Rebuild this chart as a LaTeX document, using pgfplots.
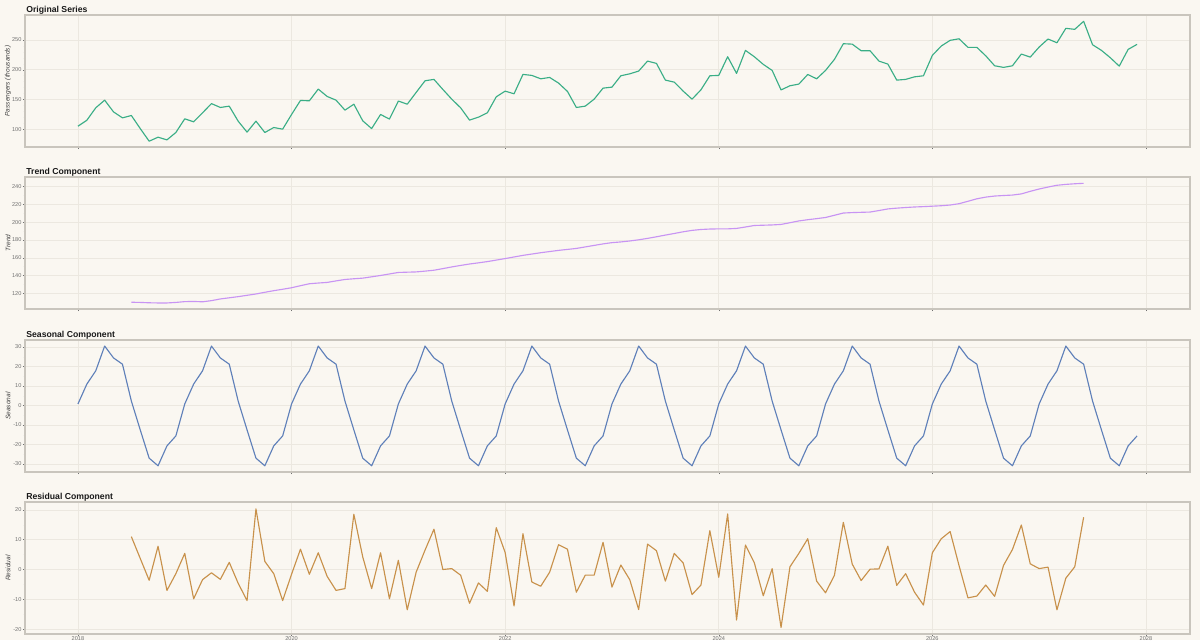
\documentclass[border=0pt]{standalone}
\usepackage{fontspec}
\setmainfont{Liberation Sans}
\usepackage{pgfplots}
\usepackage{pgfplotstable}
\pgfplotsset{compat=1.18}

\definecolor{bg}{HTML}{FAF7F1}
\definecolor{framec}{HTML}{C9C5BD}
\definecolor{gridc}{HTML}{ECE8E0}
\definecolor{tickc}{HTML}{707070}
\definecolor{cOrig}{HTML}{3AAE86}
\definecolor{cTrend}{HTML}{C894F3}
\definecolor{cSeas}{HTML}{5F80B9}
\definecolor{cResid}{HTML}{C8914B}

% month index (0 = Jan 2018), value
\pgfplotstableread{
i v
0 105
1 115
2 135.9
3 148.8
4 129
5 119
6 123
7 101
8 79.8
9 86.5
10 82
11 94.4
12 117.4
13 112.4
14 127.5
15 143
16 136.5
17 138.7
18 113.5
19 95
20 113.5
21 94.4
22 102.8
23 100
24 124.7
25 148.3
26 147.7
27 167.4
28 155
29 148.8
30 132
31 142
32 114
33 101
34 124.7
35 117
36 147.3
37 142
38 161.8
39 181.4
40 183.7
41 166.8
42 150.5
43 135.9
44 115.2
45 120.2
46 127.5
47 154.4
48 164
49 159.5
50 192.1
51 190.4
52 184.7
53 187
54 177.5
55 163.5
56 136.5
57 138.7
58 150.5
59 169
60 170.7
61 189.8
62 193.1
63 197.7
64 214.5
65 210.6
66 182.5
67 179.1
68 164
69 150.5
70 166.2
71 189.8
72 190.4
73 221.8
74 193.8
75 232.5
76 221.8
77 209
78 198.8
79 166
80 173
81 175.8
82 192
83 184.7
84 198.8
85 217.4
86 243.7
87 243
88 231.9
89 231.9
90 214.5
91 209.5
92 182.5
93 183.7
94 188
95 189.8
96 224.1
97 239.8
98 249.4
99 252
100 237.6
101 237.6
102 223.4
103 206.6
104 203.9
105 206.6
106 226.3
107 221.2
108 238.1
109 251.6
110 245.3
111 269.6
112 267.9
113 281.4
114 242
115 232.5
116 220.1
117 206
118 234.2
119 242.6
}\original

\pgfplotstableread{
i v
6 110.0
7 109.8
8 109.4
9 109.2
10 109.2
11 109.8
12 110.7
13 110.9
14 110.5
15 111.8
16 113.7
17 115.0
18 116.3
19 117.8
20 119.3
21 121.2
22 123.0
23 124.6
24 126.3
25 128.6
26 130.8
27 131.6
28 132.3
29 134.0
30 135.6
31 136.4
32 137.1
33 138.6
34 140.1
35 141.8
36 143.5
37 143.8
38 144.1
39 145.0
40 146.0
41 147.8
42 149.7
43 151.4
44 153.0
45 154.3
46 155.7
47 157.4
48 159.1
49 160.9
50 162.7
51 164.2
52 165.7
53 167.0
54 168.3
55 169.4
56 170.5
57 172.2
58 173.9
59 175.6
60 177.0
61 177.8
62 178.9
63 180.2
64 181.8
65 183.6
66 185.5
67 187.3
68 189.2
69 190.8
70 191.8
71 192.3
72 192.5
73 192.5
74 193.0
75 194.6
76 196.3
77 196.6
78 196.9
79 197.5
80 199.4
81 201.4
82 202.8
83 204.0
84 205.3
85 207.8
86 210.3
87 210.8
88 211.1
89 211.4
90 213.1
91 214.9
92 215.8
93 216.5
94 217.1
95 217.5
96 218.0
97 218.5
98 219.3
99 220.8
100 223.5
101 226.3
102 228.2
103 229.4
104 230.0
105 230.5
106 231.8
107 234.7
108 237.3
109 239.5
110 241.5
111 242.5
112 243.2
113 243.7
}\trend

\pgfplotstableread{
i v
0 0.8
1 11.0
2 17.8
3 30.5
4 24.4
5 21.2
6 2.3
7 -12.5
8 -27.0
9 -30.9
10 -20.7
11 -15.6
12 0.8
13 11.0
14 17.8
15 30.5
16 24.4
17 21.2
18 2.3
19 -12.5
20 -27.0
21 -30.9
22 -20.7
23 -15.6
24 0.8
25 11.0
26 17.8
27 30.5
28 24.4
29 21.2
30 2.3
31 -12.5
32 -27.0
33 -30.9
34 -20.7
35 -15.6
36 0.8
37 11.0
38 17.8
39 30.5
40 24.4
41 21.2
42 2.3
43 -12.5
44 -27.0
45 -30.9
46 -20.7
47 -15.6
48 0.8
49 11.0
50 17.8
51 30.5
52 24.4
53 21.2
54 2.3
55 -12.5
56 -27.0
57 -30.9
58 -20.7
59 -15.6
60 0.8
61 11.0
62 17.8
63 30.5
64 24.4
65 21.2
66 2.3
67 -12.5
68 -27.0
69 -30.9
70 -20.7
71 -15.6
72 0.8
73 11.0
74 17.8
75 30.5
76 24.4
77 21.2
78 2.3
79 -12.5
80 -27.0
81 -30.9
82 -20.7
83 -15.6
84 0.8
85 11.0
86 17.8
87 30.5
88 24.4
89 21.2
90 2.3
91 -12.5
92 -27.0
93 -30.9
94 -20.7
95 -15.6
96 0.8
97 11.0
98 17.8
99 30.5
100 24.4
101 21.2
102 2.3
103 -12.5
104 -27.0
105 -30.9
106 -20.7
107 -15.6
108 0.8
109 11.0
110 17.8
111 30.5
112 24.4
113 21.2
114 2.3
115 -12.5
116 -27.0
117 -30.9
118 -20.7
119 -15.6
}\seasonal

\pgfplotstableread{
i v
6 11.0
7 3.7
8 -3.6
9 7.8
10 -7.0
11 -1.4
12 5.4
13 -9.8
14 -3.4
15 -1.1
16 -3.3
17 2.4
18 -4.6
19 -10.4
20 20.3
21 2.7
22 -1.4
23 -10.4
24 -1.6
25 6.8
26 -1.6
27 5.6
28 -2.3
29 -7.0
30 -6.4
31 18.5
32 4.2
33 -6.4
34 5.6
35 -9.8
36 3.1
37 -13.5
38 -0.9
39 6.5
40 13.5
41 0.0
42 0.3
43 -1.9
44 -11.3
45 -4.5
46 -7.3
47 14.0
48 5.7
49 -12.2
50 12.0
51 -4.2
52 -5.6
53 -0.9
54 8.3
55 6.8
56 -7.6
57 -1.9
58 -1.9
59 9.1
60 -5.9
61 1.5
62 -3.4
63 -13.4
64 8.5
65 6.3
66 -3.9
67 5.4
68 2.2
69 -8.4
70 -5.2
71 13.0
72 -2.6
73 18.6
74 -16.9
75 8.2
76 2.2
77 -8.8
78 0.3
79 -19.4
80 0.9
81 5.4
82 10.3
83 -3.9
84 -7.8
85 -1.9
86 15.8
87 1.8
88 -3.7
89 0.1
90 0.2
91 7.8
92 -5.3
93 -1.4
94 -7.6
95 -11.9
96 5.6
97 10.3
98 12.7
99 1.3
100 -9.5
101 -8.9
102 -5.2
103 -9.0
104 1.4
105 6.7
106 14.9
107 1.9
108 0.3
109 0.8
110 -13.5
111 -2.9
112 0.9
113 17.5
}\residual

\pgfplotsset{
  panel/.style={
    scale only axis, width=873.75pt, height=99pt,
    anchor=north west,
    xmin=-5.95, xmax=124.95,
    xtick={0,24,48,72,96,120},
    xticklabels={},
    xtick pos=bottom, ytick pos=left,
    grid=major,
    major grid style={gridc, line width=0.4pt},
    axis background/.style={fill=bg},
    axis line style={framec, line width=0.8pt},
    tick style={tickc, line width=0.3pt},
    tick align=outside,
    major tick length=1.5pt,
    minor tick length=1.1pt,
    minor y tick num=4,
    yticklabel style={font=\fontsize{4.2}{5}\selectfont, text=tickc, inner sep=1pt},
    xticklabel style={font=\fontsize{4.2}{5}\selectfont, text=tickc, inner sep=0.4pt},
    every axis y label/.style={at={(axis description cs:-0.0146,0.5)}, rotate=90, anchor=center, font=\itshape\fontsize{4.9}{6}\selectfont, text=black!75},
    /pgf/number format/assume math mode=true,
    every axis plot/.append style={line width=0.85pt, line join=round},
  },
}
\tikzset{ptitle/.style={anchor=south west, inner xsep=0.8pt, inner ysep=0.6pt, font=\bfseries\fontsize{6.5}{8}\selectfont, text=black!90}}

\begin{document}
\begin{tikzpicture}
\fill[bg] (0,0) rectangle (900pt,-480pt);
\useasboundingbox (0,0) rectangle (900pt,-480pt);

\begin{axis}[panel, name=p1, at={(18.75pt,-11.25pt)},
  ylabel={Passengers (thousands)},
  ymin=70, ymax=292, ytick={100,150,200,250}]
\addplot[cOrig] table[x=i, y=v] {\original};
\end{axis}
\node[ptitle] at (p1.north west) {Original Series};

\begin{axis}[panel, name=p2, at={(18.75pt,-132.75pt)},
  ylabel={Trend},
  ymin=102.4, ymax=250.8, ytick={120,140,...,240}, minor y tick num=1]
\addplot[cTrend] table[x=i, y=v] {\trend};
\end{axis}
\node[ptitle] at (p2.north west) {Trend Component};

\begin{axis}[panel, name=p3, at={(18.75pt,-255pt)},
  ylabel={Seasonal},
  ymin=-34.1, ymax=33.6, ytick={-30,-20,...,30}, minor y tick num=1]
\addplot[cSeas] table[x=i, y=v] {\seasonal};
\end{axis}
\node[ptitle] at (p3.north west) {Seasonal Component};

\begin{axis}[panel, name=p4, at={(18.75pt,-376.5pt)},
  ylabel={Residual},
  ymin=-21.6, ymax=22.6, ytick={-20,-10,...,20}, minor y tick num=1,
  xticklabels={2018,2020,2022,2024,2026,2028}]
\addplot[cResid] table[x=i, y=v] {\residual};
\end{axis}
\node[ptitle] at (p4.north west) {Residual Component};
\end{tikzpicture}
\end{document}
